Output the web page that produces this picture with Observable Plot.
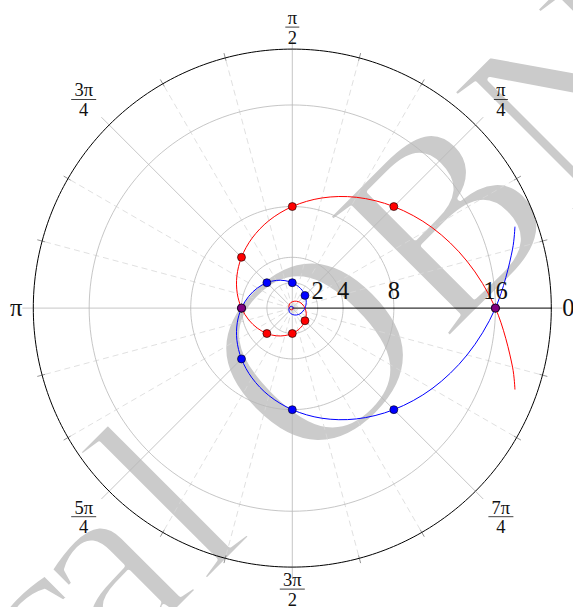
<!DOCTYPE html>
<html>
<head>
<meta charset="utf-8">
<script src="https://cdn.jsdelivr.net/npm/d3@7"></script>
<script src="https://cdn.jsdelivr.net/npm/@observablehq/plot@0.6"></script>
<style>
  html, body { margin: 0; padding: 0; background: #fff; }
  #chart svg { display: block; }
</style>
</head>
<body>
<div id="chart"></div>
<script>
// ---- Data (angles in degrees, radius in axis units) ----
const redTheta = [-20, -15, 0, 15, 30, 45, 60, 75, 90, 105, 120, 135, 150, 165, 180, 195, 210, 225, 240, 255, 270, 285, 300, 315, 330, 345, 360, 375, 390, 405, 420, 435, 450, 465, 480, 495, 510, 525, 540, 570, 600, 630, 660, 690, 720];
const redR     = [18.66, 17.96, 16, 14.25, 12.70, 11.31, 10.08, 8.98, 8, 7.13, 6.35, 5.66, 5.04, 4.49, 4, 3.56, 3.17, 2.83, 2.52, 2.24, 2, 1.78, 1.59, 1.41, 1.26, 1.12, 1, 0.89, 0.79, 0.71, 0.63, 0.56, 0.5, 0.45, 0.40, 0.35, 0.31, 0.28, 0.25, 0.20, 0.16, 0.125, 0.10, 0.08, 0.06];
const blueTheta = [20, 15, 0, -15, -30, -45, -60, -75, -90, -105, -120, -135, -150, -165, -180, -195, -210, -225, -240, -255, -270, -285, -300, -315, -330, -345, -360, -375, -390, -405, -420, -435, -450, -465, -480, -495, -510, -525, -540, -570, -600, -630, -660, -690, -720];
const blueR     = [18.66, 17.96, 16, 14.25, 12.70, 11.31, 10.08, 8.98, 8, 7.13, 6.35, 5.66, 5.04, 4.49, 4, 3.56, 3.17, 2.83, 2.52, 2.24, 2, 1.78, 1.59, 1.41, 1.26, 1.12, 1, 0.89, 0.79, 0.71, 0.63, 0.56, 0.5, 0.45, 0.40, 0.35, 0.31, 0.28, 0.25, 0.20, 0.16, 0.125, 0.10, 0.08, 0.06];

const redDotTheta  = [0, 45, 90, 135, 180, 225, 270, 315];
const redDotR      = [16, 11.31, 8, 5.66, 4, 2.83, 2, 1.41];
const blueDotTheta = [0, -45, -90, -135, -180, -225, -270, -315];
const blueDotR     = [16, 11.31, 8, 5.66, 4, 2.83, 2, 1.41];
const bothDotTheta = [0, 180];
const bothDotR     = [16, 4];

const radialTicks = [2, 4, 8, 16];
const angleTicksDeg = [0, 45, 90, 135, 180, 225, 270, 315];
const angleTickNum  = ["0", "π", "π", "3π", "π", "5π", "3π", "7π"];
const angleTickDen  = ["", "4", "2", "4", "", "4", "2", "4"];
const minorStepDeg = 15;
const rMax = 20.4;
const watermarkLetters = ["c", "a", "l", "O", "B", "N"];

// ---- layout helpers ----
const W = 573, H = 607;
const mL = 32.8, mR = 22.2, mT = 48.6, mB = 40.4;
const ppu = (W - mL - mR) / (2 * rMax); // pixels per radial unit
const cx = mL + (W - mL - mR) / 2, cy = mT + (H - mT - mB) / 2;
const rad = d => d * Math.PI / 180;
const px = (deg, r) => r * Math.cos(rad(deg));
const py = (deg, r) => r * Math.sin(rad(deg));

const series = (th, rr) => th.map((t, i) => ({t, r: rr[i]}));
const redCurve = series(redTheta, redR);
const blueCurve = series(blueTheta, blueR);
const redDots = series(redDotTheta, redDotR);
const blueDots = series(blueDotTheta, blueDotR);
const bothDots = series(bothDotTheta, bothDotR);

const circlePts = radialTicks.flatMap(r => d3.range(0, 361, 2).map(a => ({t: a, r})));
const outerPts = d3.range(0, 361, 1).map(a => ({t: a, r: rMax}));
const minorDeg = d3.range(0, 360, minorStepDeg).filter(a => a % 45 !== 0);
const majorGridDeg = angleTicksDeg.filter(a => a !== 0);

const labels = angleTicksDeg.map((deg, i) => {
  const diag = deg % 90 !== 0;
  const horiz = deg % 180 === 0;
  const dpx = diag ? 295 : (horiz ? 276 : 281);
  const rr = dpx / ppu;
  return {deg, num: angleTickNum[i], den: angleTickDen[i], x: px(deg, rr), y: py(deg, rr)};
});
const singles = labels.filter(d => d.den === "");
const fracs = labels.filter(d => d.den !== "");

// watermark letters along a -45° baseline (pixel offsets along the baseline)
const wmOffsets = [-395, -306, -207, 0, 185, 368];
const wmBase = [374.8, 411.8];
const watermark = watermarkLetters.map((ch, i) => {
  const X = wmBase[0] + wmOffsets[i] * Math.SQRT1_2;
  const Y = wmBase[1] - wmOffsets[i] * Math.SQRT1_2;
  return {ch, x: (X - cx) / ppu, y: (cy - Y) / ppu};
});

const tx = d => px(d.t, d.r), ty = d => py(d.t, d.r);

const chart = Plot.plot({
  width: W, height: H,
  marginLeft: mL, marginRight: mR, marginTop: mT, marginBottom: mB,
  x: {domain: [-rMax, rMax], axis: null},
  y: {domain: [-rMax, rMax], axis: null},
  style: {fontFamily: "'Liberation Serif', 'DejaVu Serif', serif", background: "#fff", overflow: "visible"},
  marks: [
    // watermark
    Plot.text(watermark, {x: "x", y: "y", text: "ch", rotate: -45,
      fontSize: 262, fill: "#cbcbcb", stroke: "#fff", strokeWidth: 5, paintOrder: "normal",
      textAnchor: "middle", lineAnchor: "bottom"}),
    // minor dashed spokes
    Plot.link(minorDeg, {x1: 0, y1: 0, x2: a => px(a, rMax), y2: a => py(a, rMax),
      stroke: "#d8d8d8", strokeWidth: 0.8, strokeDasharray: "6,4"}),
    // grid circles
    Plot.line(circlePts, {x: tx, y: ty, z: "r", stroke: "#b8b8b8", strokeWidth: 0.8}),
    // major spokes extending beyond outer circle
    Plot.link(majorGridDeg, {x1: 0, y1: 0, x2: a => px(a, rMax + 11 / ppu), y2: a => py(a, rMax + 11 / ppu),
      stroke: "#b8b8b8", strokeWidth: 0.8}),
    Plot.link([0], {x1: rMax, y1: 0, x2: rMax + 11 / ppu, y2: 0, stroke: "#b8b8b8", strokeWidth: 0.8}),
    // minor ticks on outer circle
    Plot.link(minorDeg, {x1: a => px(a, rMax - 3 / ppu), y1: a => py(a, rMax - 3 / ppu),
      x2: a => px(a, rMax + 5 / ppu), y2: a => py(a, rMax + 5 / ppu), stroke: "#666", strokeWidth: 0.7}),
    // outer circle
    Plot.line(outerPts, {x: tx, y: ty, stroke: "#000", strokeWidth: 1}),
    // radial axis line
    Plot.link([0], {x1: 0, y1: 0, x2: rMax, y2: 0, stroke: "#000", strokeWidth: 1}),
    // spirals
    Plot.line(redCurve, {x: tx, y: ty, stroke: "#ff0000", strokeWidth: 1, curve: "catmull-rom"}),
    Plot.line(blueCurve, {x: tx, y: ty, stroke: "#0000ff", strokeWidth: 1, curve: "catmull-rom"}),
    // markers
    Plot.dot(redDots, {x: tx, y: ty, r: 4, fill: "#ff0000", stroke: "#000", strokeWidth: 0.6}),
    Plot.dot(blueDots, {x: tx, y: ty, r: 4, fill: "#0000ff", stroke: "#000", strokeWidth: 0.6}),
    Plot.dot(bothDots, {x: tx, y: ty, r: 4, fill: "#800080", stroke: "#000", strokeWidth: 0.6}),
    // radial tick labels
    Plot.text(radialTicks, {x: d => d, y: 0, text: d => String(d), fontSize: 24.5,
      lineAnchor: "bottom", dy: -9, fill: "#111"}),
    // angle labels (single)
    Plot.text(singles, {x: "x", y: "y", text: "num", fontSize: 24.5, lineAnchor: "middle", fill: "#111"}),
    // fraction labels
    Plot.text(fracs, {x: "x", y: "y", text: "num", fontSize: 18.5, lineAnchor: "middle", dy: -9, fill: "#111"}),
    Plot.text(fracs, {x: "x", y: "y", text: "den", fontSize: 18.5, lineAnchor: "middle", dy: 10.5, fill: "#111"}),
    Plot.link(fracs, {x1: d => d.x - (d.num.length > 1 ? 12.5 : 7) / ppu, x2: d => d.x + (d.num.length > 1 ? 12.5 : 7) / ppu,
      y1: "y", y2: "y", stroke: "#111", strokeWidth: 0.8})
  ]
});
document.getElementById("chart").appendChild(chart);
</script>
</body>
</html>
